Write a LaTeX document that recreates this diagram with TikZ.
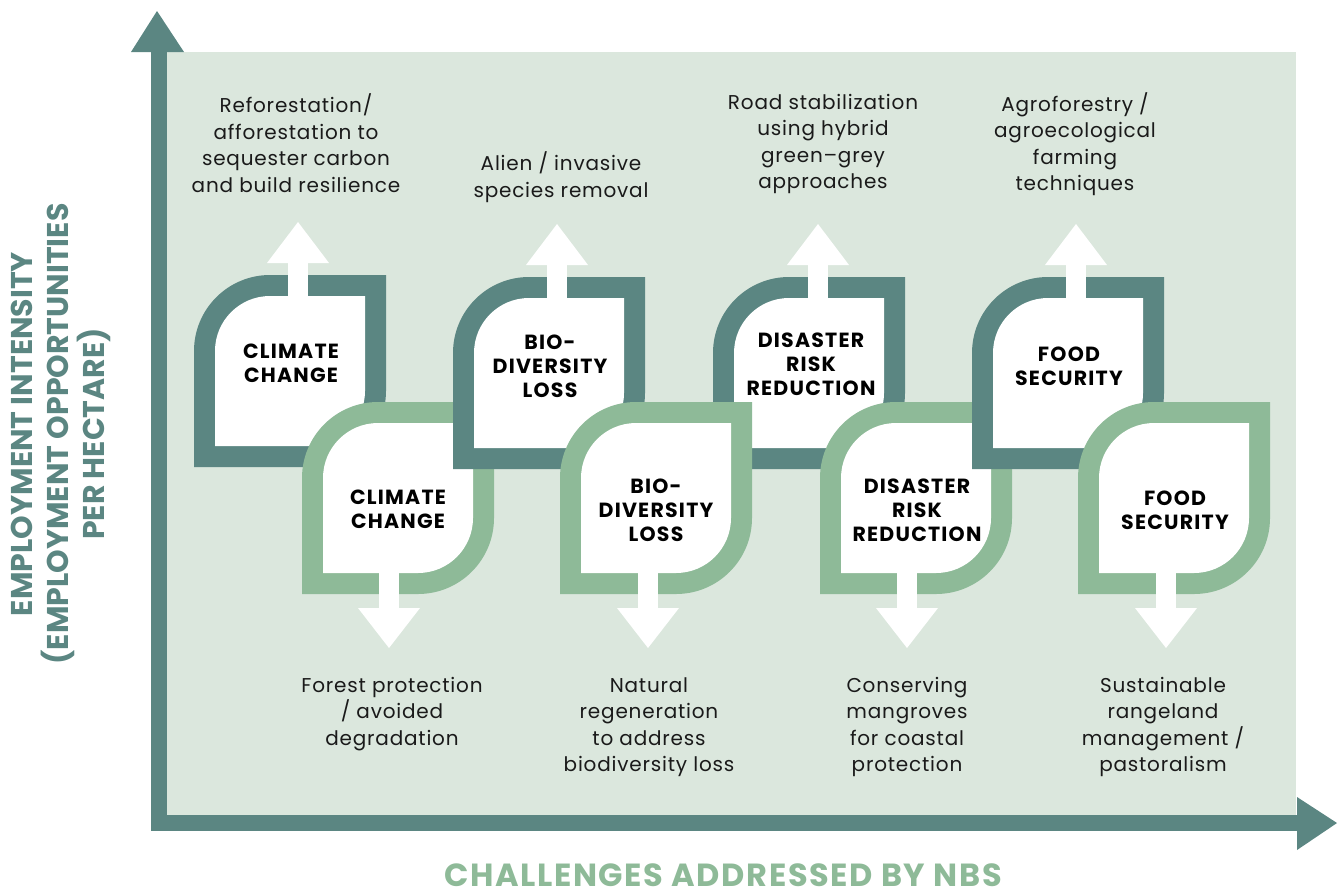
\documentclass[tikz,border=0pt]{standalone}
\usepackage{fontspec}
\setmainfont{Poppins}
\newfontfamily\bodyfont{Poppins}[LetterSpace=4]
\newfontfamily\labelfont{Poppins}[LetterSpace=6]
\newfontfamily\xaxisfont{Poppins}[LetterSpace=5]
\usetikzlibrary{positioning}

\definecolor{nbsteal}{HTML}{5B8682}
\definecolor{nbsgreen}{HTML}{8EBA98}
\definecolor{nbsbg}{HTML}{DBE7DD}
\definecolor{nbsink}{HTML}{1A1A1A}

% leaf frame: x0, y0 (top left, in px), colour
\newcommand{\nbsleaf}[3]{%
  \fill[#3]   (#1,#2+192) -- (#1,#2+76) arc[start angle=180, end angle=90, radius=76pt]
              -- (#1+192,#2) -- (#1+192,#2+116) arc[start angle=0, end angle=-90, radius=76pt] -- cycle;
  \fill[white] (#1+21,#2+171) -- (#1+21,#2+76) arc[start angle=180, end angle=90, radius=55pt]
              -- (#1+171,#2+21) -- (#1+171,#2+116) arc[start angle=0, end angle=-90, radius=55pt] -- cycle;
}
% white arrows out of a leaf: centre x, leaf top y
\newcommand{\nbsup}[2]{%
  \fill[white] (#1-10,#2+30) rectangle (#1+10,#2-13);
  \fill[white] (#1-31,#2-12) -- (#1+31,#2-12) -- (#1,#2-53) -- cycle;
}
\newcommand{\nbsdown}[2]{%
  \fill[white] (#1-10,#2+160) rectangle (#1+10,#2+207);
  \fill[white] (#1-31,#2+206) -- (#1+31,#2+206) -- (#1,#2+246) -- cycle;
}

\tikzset{
  solution/.style={align=center, text=nbsink, font=\bodyfont\fontsize{20}{26.5}\selectfont},
  challenge/.style={align=center, text=black, font=\labelfont\fontsize{20.5}{24}\selectfont\bfseries},
  axislabel/.style={align=center, font=\fontsize{30}{36}\selectfont\bfseries},
}

\begin{document}
\begin{tikzpicture}[x=1pt, y=-1pt]
        \useasboundingbox (0,0) rectangle (1343,895);
        \fill[nbsbg] (167,52) rectangle (1296,815);                       %background

        % axes
        \fill[nbsteal] (151,52) rectangle (167,831);                      %y bar
        \fill[nbsteal] (131,52) -- (184,52) -- (157,11) -- cycle;         %y head
        \fill[nbsteal] (151,815) rectangle (1297,831);                    %x bar
        \fill[nbsteal] (1297,797) -- (1297,850) -- (1337,823) -- cycle;   %x head

        % leaves, back to front
        \nbsleaf{194}{275}{nbsteal}   \nbsup{298}{275}      %climate top
        \nbsleaf{302}{402}{nbsgreen}  \nbsdown{389}{402}    %climate bottom
        \nbsleaf{713}{277}{nbsteal}   \nbsup{818}{277}      %disaster top
        \nbsleaf{453}{277}{nbsteal}   \nbsup{557}{277}      %bio top
        \nbsleaf{560}{402}{nbsgreen}  \nbsdown{648}{402}    %bio bottom
        \nbsleaf{820}{402}{nbsgreen}  \nbsdown{907}{402}    %disaster bottom
        \nbsleaf{972}{277}{nbsteal}   \nbsup{1076}{277}     %food top
        \nbsleaf{1078}{402}{nbsgreen} \nbsdown{1166}{402}   %food bottom

        \node[challenge] (cc-top) at (291,363)  {CLIMATE\\CHANGE};
        \node[challenge] (cc-bot) at (398,509)  {CLIMATE\\CHANGE};
        \node[challenge] (bd-top) at (550,366)  {BIO-\\DIVERSITY\\LOSS};
        \node[challenge] (bd-bot) at (656,510)  {BIO-\\DIVERSITY\\LOSS};
        \node[challenge] (dr-top) at (811,364)  {DISASTER\\RISK\\REDUCTION};
        \node[challenge] (dr-bot) at (917,510)  {DISASTER\\RISK\\REDUCTION};
        \node[challenge] (fs-top) at (1069,366) {FOOD\\SECURITY};
        \node[challenge] (fs-bot) at (1175,510) {FOOD\\SECURITY};

        \node[solution] (cc-up)   at (296,143)  {Reforestation/\\afforestation to\\sequester carbon\\and build resilience};
        \node[solution] (bd-up)   at (561,177)  {Alien / invasive\\species removal};
        \node[solution] (dr-up)   at (823,144)  {Road stabilization\\using hybrid\\green–grey\\approaches};
        \node[solution] (fs-up)   at (1075,144) {Agroforestry /\\agroecological\\farming\\techniques};
        \node[solution] (cc-down) at (392,714)  {Forest protection\\/ avoided\\degradation};
        \node[solution] (bd-down) at (649,727)  {Natural\\regeneration\\to address\\biodiversity loss};
        \node[solution] (dr-down) at (907,727)  {Conserving\\mangroves\\for coastal\\protection};
        \node[solution] (fs-down) at (1163,727) {Sustainable\\rangeland\\management /\\pastoralism};

        \node[axislabel, text=nbsteal, rotate=90] (ylab) at (61,434)
            {EMPLOYMENT INTENSITY\\(EMPLOYMENT OPPORTUNITIES\\PER HECTARE)};
        \node[axislabel, text=nbsgreen, inner sep=0pt, font=\xaxisfont\fontsize{32}{36}\selectfont\bfseries] (xlab) at (723,875)
            {CHALLENGES ADDRESSED BY NBS};
      \end{tikzpicture}
\end{document}
